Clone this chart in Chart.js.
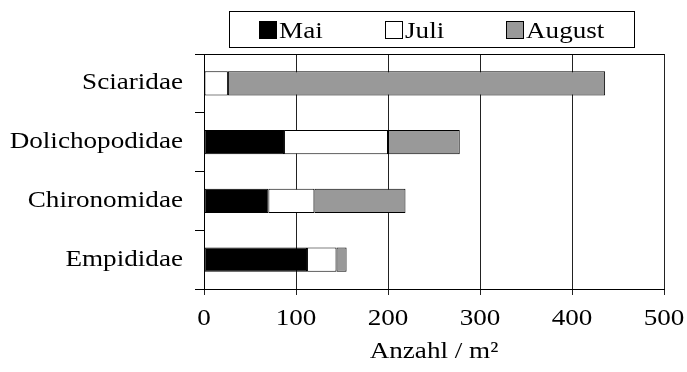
<!DOCTYPE html>
<html><head><meta charset="utf-8">
<script src="https://cdn.jsdelivr.net/npm/chart.js@4/dist/chart.umd.min.js"></script>
<style>html,body{margin:0;padding:0;background:#fff;} canvas{display:block;}</style>
</head><body>
<canvas id="c" width="687" height="372"></canvas>
<script>
const categories = ['Sciaridae', 'Dolichopodidae', 'Chironomidae', 'Empididae'];
const seriesNames = ['Mai', 'Juli', 'August'];
const maiValues = [0, 87, 70, 112];
const juliValues = [26, 113, 50, 32];
const augustValues = [410, 78, 99, 11];
const xTickValues = [0, 100, 200, 300, 400, 500];
const axisTitle = 'Anzahl / m²';

const FONT = "'Liberation Serif', 'Times New Roman', serif";
const FS = 23;
const SX = 1.18; // horizontal text stretch seen in the reference
const seriesColors = ['#000000', '#ffffff', '#999999'];

const stretchText = {
  id: 'stretchText',
  beforeDraw(chart) {
    const ctx = chart.ctx;
    if (ctx.__stretched) return;
    ctx.__stretched = true;
    const orig = ctx.fillText;
    ctx.fillText = function (t, x, y, w) {
      this.save();
      this.translate(x, y);
      this.scale(SX, 1);
      if (w === undefined) orig.call(this, t, 0, 0);
      else orig.call(this, t, 0, 0, w / SX);
      this.restore();
    };
  }
};

const frame = {
  id: 'frame',
  afterDatasetsDraw(chart) {
    const {ctx, chartArea: a} = chart;
    ctx.save();
    ctx.strokeStyle = '#000';
    ctx.lineWidth = 1;
    ctx.beginPath();
    ctx.moveTo(Math.round(a.left) + 0.5, Math.round(a.top) + 0.5);
    ctx.lineTo(Math.round(a.right) + 0.5, Math.round(a.top) + 0.5);
    ctx.stroke();
    ctx.restore();
  }
};

const boxLegend = {
  id: 'boxLegend',
  afterDraw(chart) {
    const {ctx, chartArea: a} = chart;
    const ds = chart.data.datasets;
    ctx.save();
    ctx.font = FS + 'px ' + FONT;
    const sq = 18, gapText = 2, gapItem = 62, padX = 30;
    const widths = ds.map(d => sq + gapText + ctx.measureText(d.label).width * SX);
    const content = widths.reduce((s, w) => s + w, 0) + gapItem * (ds.length - 1);
    const cx = (a.left + a.right) / 2 - 2;
    const boxLeft = Math.round(cx - content / 2 - padX);
    const boxW = Math.round(content + 2 * padX);
    const boxTop = 11, boxH = 36;
    ctx.strokeStyle = '#000';
    ctx.lineWidth = 1;
    ctx.strokeRect(boxLeft + 0.5, boxTop + 0.5, boxW, boxH);
    let x = Math.round(cx - content / 2);
    const sqTop = 21;
    ds.forEach((d, i) => {
      ctx.fillStyle = d.backgroundColor;
      ctx.fillRect(x, sqTop, sq, sq);
      ctx.strokeStyle = '#000';
      ctx.strokeRect(x + 0.5, sqTop + 0.5, sq - 1, sq - 1);
      ctx.fillStyle = '#000';
      ctx.textBaseline = 'alphabetic';
      ctx.textAlign = 'left';
      ctx.fillText(d.label, x + sq + gapText, 38);
      x = Math.round(x + widths[i] + gapItem);
    });
    ctx.restore();
  }
};

const valuesBySeries = [maiValues, juliValues, augustValues];

new Chart(document.getElementById('c'), {
  type: 'bar',
  data: {
    labels: categories,
    datasets: seriesNames.map((name, i) => ({
      label: name,
      data: valuesBySeries[i],
      backgroundColor: seriesColors[i],
      borderColor: '#000',
      borderWidth: 1,
      borderSkipped: false,
      barPercentage: 0.41,
      categoryPercentage: 1
    }))
  },
  options: {
    indexAxis: 'y',
    responsive: false,
    animation: false,
    devicePixelRatio: 1,
    layout: {padding: {top: 54, right: 23, bottom: 0, left: 0}},
    plugins: {legend: {display: false}, tooltip: {enabled: false}, title: {display: false}},
    scales: {
      x: {
        stacked: true,
        min: 0, max: 500,
        afterBuildTicks: s => { s.ticks = xTickValues.map(v => ({value: v})); },
        afterFit: s => { s.height = 83; s.paddingLeft = 0; s.paddingRight = 0; },
        grid: {color: '#222', lineWidth: 1, tickLength: 6, drawTicks: true},
        border: {color: '#000', width: 1},
        ticks: {color: '#000', font: {family: FONT, size: FS}, padding: 10, maxRotation: 0},
        title: {display: true, text: axisTitle, color: '#000', font: {family: FONT, size: FS}, padding: {top: 0, bottom: 6}}
      },
      y: {
        stacked: true,
        afterFit: s => { s.width = 204; s.paddingTop = 0; s.paddingBottom = 0; },
        grid: {drawOnChartArea: false, color: '#000', tickLength: 9, offset: true},
        border: {color: '#000', width: 1},
        ticks: {color: '#000', font: {family: FONT, size: FS}, padding: 12}
      }
    }
  },
  plugins: [stretchText, frame, boxLegend]
});
</script>
</body></html>
